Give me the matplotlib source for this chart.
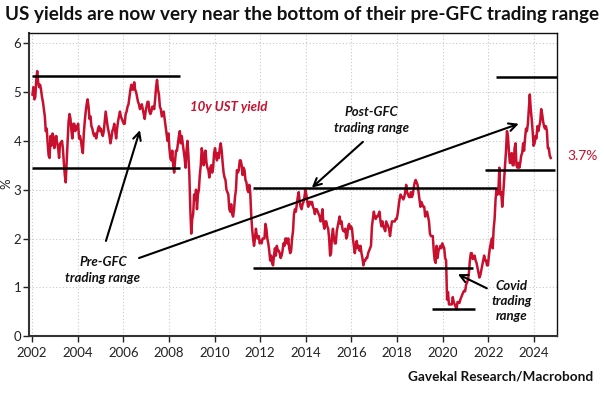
import numpy as np
import matplotlib
matplotlib.use("Agg")
import matplotlib.pyplot as plt

# ---- data: 10y UST yield, semi-monthly readings (%) ----
y2002 = [4.95, 5.10, 4.85, 4.90, 5.25, 5.43, 5.20, 5.10, 5.15, 5.05, 4.90, 4.80, 4.65, 4.50, 4.20, 4.25, 3.95, 3.70, 3.65, 4.10, 3.90, 4.15, 4.10, 3.85]
y2003 = [4.00, 4.10, 3.95, 3.85, 3.65, 3.95, 3.95, 4.00, 3.85, 3.55, 3.30, 3.15, 3.60, 4.00, 4.40, 4.55, 4.45, 4.20, 4.05, 4.35, 4.35, 4.20, 4.30, 4.25]
y2004 = [4.35, 4.05, 4.10, 4.00, 3.85, 3.75, 4.15, 4.40, 4.60, 4.75, 4.85, 4.70, 4.45, 4.50, 4.30, 4.25, 4.15, 4.10, 4.15, 4.05, 4.15, 4.25, 4.30, 4.20]
y2005 = [4.25, 4.15, 4.10, 4.20, 4.40, 4.60, 4.45, 4.30, 4.20, 4.10, 3.95, 4.05, 4.20, 4.25, 4.35, 4.20, 4.05, 4.25, 4.40, 4.50, 4.60, 4.50, 4.45, 4.40]
y2006 = [4.35, 4.35, 4.55, 4.60, 4.70, 4.75, 4.90, 5.05, 5.15, 5.05, 5.05, 5.20, 5.05, 5.00, 4.90, 4.80, 4.75, 4.65, 4.70, 4.75, 4.65, 4.55, 4.45, 4.60]
y2007 = [4.70, 4.80, 4.80, 4.60, 4.55, 4.60, 4.70, 4.70, 4.65, 4.85, 5.10, 5.25, 5.05, 4.95, 4.70, 4.65, 4.50, 4.55, 4.60, 4.45, 4.30, 4.15, 4.00, 4.15]
y2008 = [3.85, 3.65, 3.60, 3.80, 3.50, 3.35, 3.60, 3.80, 3.80, 3.95, 4.10, 4.20, 3.95, 4.10, 3.95, 3.80, 3.65, 3.45, 3.80, 4.00, 3.70, 3.30, 2.60, 2.10]
y2009 = [2.40, 2.50, 2.90, 2.80, 3.00, 2.60, 2.90, 3.00, 3.30, 3.50, 3.85, 3.75, 3.50, 3.60, 3.80, 3.55, 3.45, 3.40, 3.25, 3.45, 3.50, 3.35, 3.45, 3.75]
y2010 = [3.85, 3.70, 3.60, 3.75, 3.65, 3.85, 3.95, 3.80, 3.55, 3.35, 3.25, 3.20, 3.00, 2.95, 2.90, 2.60, 2.55, 2.70, 2.50, 2.45, 2.60, 2.85, 3.00, 3.40]
y2011 = [3.35, 3.40, 3.60, 3.60, 3.50, 3.30, 3.45, 3.40, 3.20, 3.15, 3.00, 2.95, 3.10, 2.95, 2.50, 2.20, 2.00, 1.85, 2.00, 2.20, 2.05, 2.00, 2.05, 1.90]
y2012 = [1.95, 1.90, 2.00, 2.00, 2.00, 2.30, 2.20, 2.00, 1.90, 1.75, 1.55, 1.65, 1.50, 1.45, 1.65, 1.80, 1.65, 1.85, 1.75, 1.75, 1.70, 1.60, 1.65, 1.75]
y2013 = [1.90, 1.85, 2.00, 2.00, 1.90, 2.00, 1.80, 1.70, 1.75, 2.00, 2.15, 2.50, 2.60, 2.55, 2.70, 2.85, 2.95, 2.75, 2.65, 2.60, 2.70, 2.75, 2.85, 3.00]
y2014 = [2.90, 2.75, 2.65, 2.75, 2.75, 2.70, 2.75, 2.65, 2.60, 2.50, 2.60, 2.60, 2.55, 2.50, 2.45, 2.35, 2.45, 2.60, 2.30, 2.20, 2.35, 2.35, 2.25, 2.20]
y2015 = [2.00, 1.65, 1.70, 2.05, 2.20, 2.00, 1.90, 1.90, 2.15, 2.25, 2.35, 2.45, 2.30, 2.35, 2.20, 2.15, 2.15, 2.20, 2.00, 2.05, 2.25, 2.30, 2.20, 2.25]
y2016 = [2.20, 2.00, 1.85, 1.70, 1.85, 1.95, 1.80, 1.85, 1.75, 1.85, 1.70, 1.60, 1.45, 1.55, 1.55, 1.60, 1.60, 1.70, 1.75, 1.80, 1.85, 2.25, 2.40, 2.55]
y2017 = [2.45, 2.40, 2.45, 2.45, 2.50, 2.55, 2.35, 2.25, 2.35, 2.25, 2.20, 2.15, 2.35, 2.30, 2.25, 2.20, 2.05, 2.20, 2.35, 2.35, 2.35, 2.35, 2.40, 2.40]
y2018 = [2.50, 2.65, 2.80, 2.90, 2.85, 2.85, 2.80, 2.85, 2.95, 3.10, 2.95, 2.90, 2.85, 2.85, 2.95, 2.85, 2.90, 3.05, 3.15, 3.20, 3.15, 3.10, 2.95, 2.80]
y2019 = [2.65, 2.75, 2.70, 2.65, 2.65, 2.45, 2.50, 2.55, 2.45, 2.35, 2.10, 2.05, 2.05, 2.05, 1.75, 1.55, 1.50, 1.85, 1.60, 1.75, 1.80, 1.85, 1.80, 1.90]
y2020 = [1.85, 1.80, 1.60, 1.55, 0.75, 0.90, 0.65, 0.65, 0.65, 0.65, 0.80, 0.70, 0.65, 0.60, 0.55, 0.70, 0.70, 0.68, 0.75, 0.80, 0.85, 0.90, 0.93, 0.92]
y2021 = [1.05, 1.10, 1.15, 1.30, 1.55, 1.70, 1.70, 1.58, 1.60, 1.65, 1.55, 1.50, 1.40, 1.30, 1.20, 1.25, 1.35, 1.45, 1.55, 1.65, 1.55, 1.55, 1.45, 1.45]
y2022 = [1.65, 1.80, 1.90, 2.00, 1.80, 2.20, 2.40, 2.80, 3.00, 2.90, 3.00, 3.45, 2.90, 2.95, 2.65, 2.90, 3.20, 3.50, 3.80, 4.20, 4.10, 3.80, 3.55, 3.55]
y2023 = [3.75, 3.50, 3.50, 3.85, 3.95, 3.50, 3.45, 3.55, 3.45, 3.55, 3.70, 3.75, 3.95, 3.80, 4.05, 4.25, 4.20, 4.35, 4.65, 4.95, 4.65, 4.45, 4.20, 3.90]
y2024 = [3.95, 4.10, 4.05, 4.30, 4.20, 4.30, 4.40, 4.65, 4.55, 4.40, 4.30, 4.25, 4.30, 4.20, 3.85, 3.85, 3.70, 3.65]

years = list(range(2002, 2025))
yearly = [y2002, y2003, y2004, y2005, y2006, y2007, y2008, y2009, y2010, y2011, y2012,
          y2013, y2014, y2015, y2016, y2017, y2018, y2019, y2020, y2021, y2022, y2023, y2024]

# trading-range levels: (level, start year, end year)
ranges = [(5.33, 2002.0, 2008.5), (3.44, 2002.0, 2008.5),
          (3.04, 2011.68, 2022.37), (1.39, 2011.68, 2021.32),
          (0.56, 2019.52, 2021.4),
          (5.31, 2022.32, 2025.0), (3.40, 2021.84, 2024.9)]

xticks = list(range(2002, 2025, 2))
yticks = [0, 1, 2, 3, 4, 5, 6]
last_label = "3.7%"

RED = "#c8102e"

dates, vals = [], []
for yr, vs in zip(years, yearly):
    for k, v in enumerate(vs):
        dates.append(yr + (k + 0.5) / 24)
        vals.append(v)

plt.rcParams['font.family'] = ['Lato', 'DejaVu Sans']
fig = plt.figure(figsize=(6.04, 3.95), dpi=100)
ax = fig.add_axes([0.0488, 0.149, 0.8732, 0.7675])

ax.plot(dates, vals, color=RED, lw=1.8, zorder=3, solid_joinstyle='round')

for lvl, x0, x1 in ranges:
    ax.plot([x0, x1], [lvl, lvl], color='black', lw=1.8, zorder=4, solid_capstyle='butt')

ax.set_xlim(2001.89, 2025.0)
ax.set_ylim(0, 6.21)
ax.set_xticks(xticks)
ax.set_yticks(yticks)
ax.tick_params(labelsize=9.5, length=4, width=1, direction='out', colors='#222222')
ax.tick_params(axis='y', pad=2)
ax.grid(True, color='#c8c8c8', lw=0.8, linestyle=(0, (1, 2)))
ax.set_axisbelow(True)
for s in ['left', 'bottom']:
    ax.spines[s].set_linewidth(1.5)
    ax.spines[s].set_color('#333333')
for s in ['top', 'right']:
    ax.spines[s].set_linewidth(1.0)
    ax.spines[s].set_color('#111111')

arrow = dict(arrowstyle='->', color='black', lw=1.5, mutation_scale=14, shrinkA=0, shrinkB=0)
ax.annotate('', xy=(2006.73, 4.22), xytext=(2005.24, 1.95), arrowprops=arrow, zorder=5)
ax.annotate('', xy=(2023.33, 4.35), xytext=(2006.69, 1.60), arrowprops=arrow, zorder=5)
ax.annotate('', xy=(2014.26, 3.04), xytext=(2016.5, 3.98), arrowprops=arrow, zorder=5)
ax.annotate('', xy=(2020.66, 1.27), xytext=(2021.93, 0.98), arrowprops=arrow, zorder=5)

afont = dict(fontsize=9.5, style='italic', fontweight='bold', color='#111111')
ax.text(2005.11, 1.36, 'Pre-GFC\ntrading range', ha='center', va='center', linespacing=1.4, **afont)
ax.text(2016.89, 4.43, 'Post-GFC\ntrading range', ha='center', va='center', linespacing=1.4, **afont)
ax.text(2023.02, 0.72, 'Covid\ntrading\nrange', ha='center', va='center', linespacing=1.3, **afont)
ax.text(2008.92, 4.69, '10y UST yield', ha='left', va='center', fontsize=9.5, style='italic',
        fontweight='bold', color=RED)
ax.text(2025.48, 3.69, last_label, ha='left', va='center', fontsize=10, color=RED, clip_on=False)

fig.text(0.008, 0.963, 'US yields are now very near the bottom of their pre-GFC trading range',
         ha='left', va='center', fontsize=13.55, fontweight='bold', color='#111111')
fig.text(0.982, 0.048, 'Gavekal Research/Macrobond', ha='right', va='center', fontsize=9.8,
         fontweight='bold', color='#111111')
fig.text(0.011, 0.535, '%', rotation=90, ha='center', va='center', fontsize=9.5, color='#222222')

fig.savefig('out.png', dpi=100)
